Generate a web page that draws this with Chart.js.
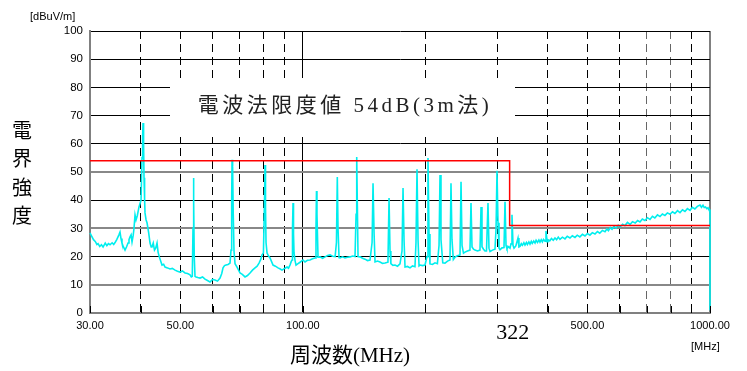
<!DOCTYPE html>
<html>
<head>
<meta charset="utf-8">
<script src="https://cdn.jsdelivr.net/npm/chart.js@4"></script>
<style>
  body { margin: 0; background: #fff; }
  canvas { display: block; }
</style>
</head>
<body>
<canvas id="emiChart" width="747" height="371"></canvas>
<script>
// 測定データ (MHz / dBuV/m)
const traceFreq = [
  30.0, 30.3, 30.6, 30.9, 31.2, 31.4, 31.7, 32.0, 32.3, 32.7, 33.0, 33.3, 33.6, 34.0, 34.3, 34.6, 34.9,
  35.15, 35.35, 35.55, 35.75, 35.95, 36.2, 36.57, 36.9, 37.2, 37.4, 37.62, 37.85, 38.05, 38.3, 38.48,
  38.7, 38.92, 39.2, 39.58, 40.04, 40.26, 40.4, 40.49, 40.62, 40.72, 40.85, 40.95, 41.2, 41.42, 41.8,
  42.13, 42.4, 42.6, 42.9, 43.2, 43.5, 43.83, 44.1, 44.4, 45.08, 45.5, 45.86, 46.5, 47.17, 47.8, 48.52,
  49.2, 49.91, 50.6, 51.35, 52.1, 52.82, 53.2, 53.5, 53.72, 53.85, 53.98, 54.1, 54.33, 54.64, 55.2,
  55.89, 56.7, 57.49, 58.3, 59.14, 60.0, 60.84, 61.7, 62.59, 63.2, 63.66, 64.2, 64.75, 65.5, 66.23,
  66.6, 66.85, 67.0, 67.2, 67.45, 67.74, 68.13, 68.9, 70.08, 71.0, 72.09, 73.1, 74.16, 75.2, 76.29,
  77.2, 78.03, 78.8, 79.37, 80.0, 80.5, 80.73, 80.95, 81.19, 81.65, 82.3, 83.04, 84.47, 85.6, 86.89,
  88.0, 88.88, 90.2, 91.43, 92.2, 92.99, 93.6, 94.05, 94.3, 94.58, 94.85, 95.12, 95.7, 96.2, 97.3,
  98.41, 99.2, 100.09, 101.2, 102.6, 104.1, 105.6, 107.1, 107.7, 108.0, 108.3, 108.95, 110.2, 111.8,
  113.4, 115.0, 116.6, 118.3, 120.0, 120.9, 121.5, 122.0, 122.7, 123.4, 125.1, 126.9, 128.7, 130.6,
  132.4, 134.3, 135.1, 135.6, 136.1, 136.6, 138.2, 140.1, 142.1, 144.1, 146.2, 147.9, 148.7, 149.6,
  150.4, 152.5, 154.7, 156.9, 159.1, 161.8, 162.8, 163.7, 164.5, 166.4, 168.4, 170.8, 173.2, 175.2,
  176.2, 177.2, 178.2, 180.7, 183.3, 185.9, 188.5, 189.6, 190.7, 191.8, 192.9, 194.0, 196.7, 199.5,
  201.8, 202.9, 204.1, 205.2, 208.1, 211.1, 214.0, 216.0, 217.2, 218.4, 220.6, 223.4, 226.6, 229.8,
  231.1, 232.4, 234.2, 236.4, 239.6, 243.2, 244.6, 246.0, 248.0, 250.2, 253.6, 257.3, 258.8, 260.3,
  262.5, 264.7, 268.4, 272.3, 273.9, 275.4, 277.8, 280.1, 282.5, 284.9, 286.5, 288.2, 292.2, 296.4,
  298.2, 299.8, 301.5, 303.2, 304.9, 308.4, 311.9, 313.7, 315.5, 317.2, 320.0, 322.7, 324.5, 326.3,
  328.2, 330.1, 333.5, 337.6, 339.4,
  341.4, 344, 346, 349, 351.2, 354, 356, 359, 361.3, 364,
  366, 369, 371.7, 374, 377, 380, 382.3, 385, 387.5, 390,
  393.3, 395.5, 398, 400, 404, 408, 412, 416.2, 420, 424,
  428, 434, 440.4, 446, 453, 459, 466, 472, 479, 486,
  493.1, 500, 507, 514, 521.8, 529, 536, 544, 552.2, 558,
  563, 569, 574.6, 581, 588, 595, 601.2, 610, 618, 627,
  636.2, 645, 655, 664, 673.1, 682, 692, 702, 712.2, 722,
  732, 743, 753.7, 764, 775, 786, 797.5, 809, 820, 832,
  843.9, 856, 868, 880, 893.2, 905, 918, 931, 945.1, 953,
  961.2, 968, 975, 982, 988.8, 994, 1000, 1000
];
const traceLevel = [
  28.4, 27.2, 26.0, 25.4, 24.3, 24.6, 23.6, 24.2, 23.4, 24.8, 23.9, 24.6, 24.2, 24.9, 24.3, 25.1, 26.0,
  27.0, 27.8, 28.7, 26.4, 24.8, 23.6, 22.3, 23.5, 24.8, 26.0, 27.0, 27.7, 25.2, 27.5, 30.1,
  34.8, 33.0, 34.5, 37.6, 40.0, 55.0, 62.4, 67.4, 60.0, 48.0, 40.5, 35.5, 33.0, 32.0, 28.5,
  24.8, 23.4, 23.4, 24.8, 22.3, 23.0, 24.8, 21.5, 19.9, 17.0, 17.3, 16.3, 16.0, 15.6, 15.8, 15.2,
  14.8, 14.5, 14.9, 14.2, 14.0, 13.5, 12.8, 13.0, 30.0, 47.9, 40.0, 20.0, 13.0, 12.8, 12.6,
  12.4, 12.8, 12.0, 11.5, 11.0, 11.9, 11.7, 11.3, 12.4, 14.0, 16.0, 16.8, 17.0, 17.2, 17.7,
  22.3, 40.0, 54.3, 51.8, 35.0, 22.0, 17.5, 16.3, 14.2, 13.7, 12.8, 13.3, 14.2, 15.2, 16.0,
  16.6, 17.7, 19.0, 20.6, 21.3, 40.0, 52.5, 37.6, 25.0, 21.3, 20.3, 19.5, 17.0, 16.6, 16.0,
  15.6, 15.2, 15.8, 16.3, 15.9, 17.0, 18.2, 18.8, 30.0, 39.0, 28.0, 21.3, 18.5, 17.0, 17.5,
  18.0, 18.4, 18.8, 18.1, 18.7, 18.8, 19.2, 19.5, 30.0, 43.3, 35.0, 19.8, 19.9, 19.4,
  19.9, 20.4, 20.6, 20.1, 20.0, 25.0, 48.2, 30.0, 19.6, 19.5, 19.9, 19.5, 19.8, 19.9,
  20.2, 20.0, 35.0, 55.3, 38.0, 20.0, 19.9, 19.4, 19.1, 18.6, 18.8, 25.0, 46.0, 28.0,
  18.1, 18.4, 18.1, 17.6, 17.7, 18.0, 40.8, 22.0, 17.5, 16.9, 17.0, 16.6, 17.4, 22.0,
  44.3, 26.0, 16.3, 16.5, 16.0, 16.7, 16.4, 25.0, 51.0, 26.0, 16.7, 17.0, 16.8, 17.0,
  20.0, 55.0, 28.0, 17.4, 17.2, 17.8, 17.5, 24.0, 48.9, 26.0, 17.8, 17.7, 18.4, 18.8,
  46.0, 26.0, 19.0, 19.8, 20.3, 20.6, 46.5, 24.0, 21.2, 21.6, 22.0, 22.3, 39.0, 23.4,
  22.6, 22.3, 22.0, 22.3, 37.6, 23.5, 22.6, 22.0, 22.0, 39.0, 23.0, 21.8, 22.3, 22.6,
  30.0, 50.4, 32.0, 23.0, 22.4, 23.1, 23.2, 39.4, 24.0, 22.8, 23.5, 23.0, 24.5, 34.8,
  24.0, 23.0, 23.8, 26.6, 23.4,
  23.6, 24.6, 24.0, 24.9, 24.1, 25.0, 24.3, 25.2, 24.4, 25.4,
  24.7, 25.5, 24.8, 25.8, 25.0, 25.9, 25.1, 26.0, 25.2, 26.1,
  25.5, 29.1, 25.3, 26.0, 25.6, 26.4, 25.8, 26.6, 26.0, 26.9,
  26.1, 26.9, 26.3, 27.2, 26.6, 27.4, 26.8, 27.6, 27.0, 27.9,
  27.3, 28.2, 27.6, 28.5, 28.0, 28.9, 28.3, 29.3, 28.8, 29.8,
  29.2, 30.3, 29.7, 30.7, 30.1, 31.1, 30.5, 31.5, 31.0, 32.1,
  31.4, 32.4, 31.9, 32.8, 32.3, 33.3, 32.8, 33.8, 33.2, 34.3,
  33.7, 34.8, 34.2, 35.1, 34.6, 35.5, 35.0, 35.9, 35.3, 36.3,
  35.6, 36.6, 36.0, 37.0, 36.4, 37.5, 36.9, 37.8, 38.3, 37.5,
  38.2, 37.4, 37.6, 37.0, 37.3, 36.6, 36.5, 1.0
];

// 限度値 (3m法)
const limitFreq = [30, 322, 322, 1000];
const limitLevel = [54, 54, 31, 31];

const xTickValues = [30, 40, 50, 60, 70, 80, 90, 100, 200, 300, 400, 500, 600, 700, 800, 900, 1000];
const xLabelValues = [30, 50, 100, 500, 1000];
const stepFreq = 322;
const yTitle = ['電', '界', '強', '度'];
const limitText = '電波法限度値 54dB(3m法)';

const pts = (xs, ys) => xs.map((x, i) => ({ x: x, y: ys[i] }));

const decor = {
  id: 'decor',
  beforeDatasetsDraw(chart) {
    const c = chart.ctx;
    c.save();
    c.fillStyle = '#fff';
    c.fillRect(170, 78, 345, 59);
    c.fillStyle = '#222';
    c.font = '21px "Liberation Serif", "Noto Sans CJK JP"';
    c.textAlign = 'center';
    c.textBaseline = 'middle';
    c.letterSpacing = '3.5px';
    c.fillText(limitText, 345, 106);
    c.restore();
  },
  afterDraw(chart) {
    const c = chart.ctx;
    const xs = chart.scales.x;
    const bottom = chart.chartArea.bottom;
    c.save();
    // 下辺の目盛り
    c.strokeStyle = '#000';
    c.lineWidth = 1;
    xTickValues.forEach(v => {
      const px = Math.round(xs.getPixelForValue(v)) + 0.5;
      c.beginPath();
      c.moveTo(px, bottom - 7);
      c.lineTo(px, bottom);
      c.stroke();
    });
    c.fillStyle = '#000';
    c.textAlign = 'center';
    c.textBaseline = 'middle';
    c.font = '20px "Noto Sans CJK JP"';
    yTitle.forEach((ch, i) => c.fillText(ch, 22, 130 + i * 28.5));
    c.font = '21px "Liberation Serif", "Noto Sans CJK JP"';
    c.fillText('周波数(MHz)', 350, 356);
    c.font = '22px "Liberation Serif"';
    c.fillText(String(stepFreq), xs.getPixelForValue(stepFreq) + 3, 333);
    c.font = '11px "Liberation Sans"';
    c.textAlign = 'left';
    c.fillText('[dBuV/m]', 30, 17);
    c.fillText('[MHz]', 691, 347);
    c.restore();
  }
};

const ctx = document.getElementById('emiChart').getContext('2d');
const emiChart = new Chart(ctx, {
  type: 'line',
  data: {
    datasets: [{
      data: pts(limitFreq, limitLevel),
      borderColor: '#ff0000',
      borderWidth: 1.5,
      pointRadius: 0,
      tension: 0
    }, {
      data: pts(traceFreq, traceLevel),
      borderColor: '#00eeee',
      borderWidth: 1.6,
      pointRadius: 0,
      tension: 0,
      clip: 4
    }]
  },
  options: {
    responsive: false,
    animation: false,
    layout: { padding: { top: 31, right: 37, left: 0, bottom: 0 } },
    plugins: { legend: { display: false }, tooltip: { enabled: false } },
    scales: {
      x: {
        type: 'logarithmic',
        min: 30,
        max: 1000,
        afterBuildTicks: scale => { scale.ticks = xTickValues.map(v => ({ value: v })); },
        afterFit: scale => { scale.height = 58; },
        ticks: {
          autoSkip: false,
          maxRotation: 0,
          padding: 6,
          color: '#000',
          font: { family: 'Liberation Sans', size: 11 },
          callback: v => xLabelValues.includes(v) ? v.toFixed(2) : ''
        },
        grid: {
          drawTicks: false,
          color: c => {
            const v = c.tick ? c.tick.value : 0;
            if (v === 30 || v === 1000) return '#808080';
            if (v === 700 || v === 800) return '#666';
            return '#000';
          },
          lineWidth: c => (c.tick && (c.tick.value === 30 || c.tick.value === 1000)) ? 2 : 1
        },
        border: {
          color: '#808080',
          width: 2,
          dash: c => (c.tick && ![30, 100, 1000].includes(c.tick.value)) ? [8, 5] : []
        }
      },
      y: {
        min: 0,
        max: 100,
        afterFit: scale => { scale.width = 90; },
        ticks: {
          stepSize: 10,
          padding: 7,
          color: '#000',
          font: { family: 'Liberation Sans', size: 11.5 }
        },
        grid: {
          drawTicks: false,
          color: c => {
            const v = c.tick ? c.tick.value : 0;
            return [0, 10, 30, 50].includes(v) ? '#888' : '#000';
          },
          lineWidth: c => (c.tick && [0, 10, 30, 50].includes(c.tick.value)) ? 2 : 1
        },
        border: { color: '#808080', width: 2 }
      }
    }
  },
  plugins: [decor]
});
</script>
</body>
</html>
